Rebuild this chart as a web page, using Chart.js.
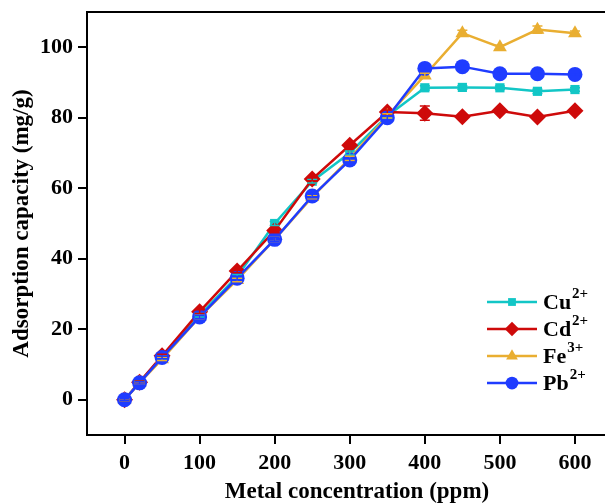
<!DOCTYPE html>
<html>
<head>
<meta charset="utf-8">
<script src="https://cdn.jsdelivr.net/npm/chart.js@4/dist/chart.umd.min.js"></script>
<style>
  html, body { margin: 0; padding: 0; background: #fff; overflow: hidden; }
  canvas { display: block; }
</style>
</head>
<body>
<canvas id="c" width="605" height="504"></canvas>
<script>
// Metal concentration (ppm)
const concentrations = [0, 20, 50, 100, 150, 200, 250, 300, 350, 400, 450, 500, 550, 600];

// Adsorption capacity (mg/g) for each ion
const cuValues = [0, 5.0, 12.0, 24.0, 35.0, 50.0, 62.0, 70.0, 80.5, 88.5, 88.6, 88.5, 87.5, 88.0];
const cdValues = [0, 5.0, 12.5, 25.0, 36.5, 48.0, 62.6, 72.2, 81.6, 81.3, 80.3, 82.0, 80.2, 82.0];
const feValues = [0, 4.8, 11.5, 23.5, 34.0, 45.5, 57.5, 68.5, 80.5, 92.0, 104.0, 100.0, 105.0, 104.0];
const pbValues = [0, 4.8, 12.0, 23.5, 34.5, 45.5, 57.8, 68.0, 80.0, 94.0, 94.5, 92.5, 92.5, 92.3];

// Standard deviations
const cuErrors = [0.3, 0.3, 0.4, 0.5, 0.5, 0.6, 0.5, 0.6, 0.6, 0.6, 0.5, 0.5, 0.6, 0.5];
const cdErrors = [0.3, 0.3, 0.4, 0.5, 0.5, 0.6, 0.5, 0.6, 0.6, 2.0, 0.5, 0.5, 0.6, 0.5];
const feErrors = [0.3, 0.3, 0.4, 0.5, 0.5, 0.6, 0.5, 0.6, 0.6, 0.6, 0.8, 0.6, 1.0, 0.6];
const pbErrors = [0.3, 0.3, 0.4, 0.5, 0.5, 0.6, 0.5, 0.6, 0.6, 0.6, 0.5, 0.5, 0.6, 0.5];

const xTicks = [0, 100, 200, 300, 400, 500, 600];
const yTicks = [0, 20, 40, 60, 80, 100];

const seriesNames = ['Cu', 'Cd', 'Fe', 'Pb'];
const seriesCharges = ['2+', '2+', '3+', '2+'];
const xTitle = 'Metal concentration (ppm)';

const FONT = '"Liberation Serif", "Times New Roman", serif';

const styles = [
  { color: '#12C6C6', shape: 'rect', radius: 6.5 },
  { color: '#CE0A0A', shape: 'rectRot', radius: 8.5 },
  { color: '#E9AE31', shape: 'triangle', radius: 8 },
  { color: '#1F3CFF', shape: 'circle', radius: 7.5 }
];

const valueSets = [cuValues, cdValues, feValues, pbValues];
const errorSets = [cuErrors, cdErrors, feErrors, pbErrors];

const datasets = valueSets.map((vals, i) => ({
  label: seriesNames[i] + seriesCharges[i],
  data: concentrations.map((x, j) => ({ x: x, y: vals[j] })),
  errors: errorSets[i],
  borderColor: styles[i].color,
  backgroundColor: styles[i].color,
  borderWidth: 2.5,
  pointStyle: styles[i].shape,
  pointRadius: styles[i].radius,
  pointBorderWidth: 0,
  pointBackgroundColor: styles[i].color,
  tension: 0,
  order: 4 - i
}));

// Vertical error bars with caps, in the colour of each series
const errorBars = {
  id: 'errorBars',
  afterDatasetsDraw(chart) {
    const ctx = chart.ctx;
    const ys = chart.scales.y;
    ctx.save();
    chart.data.datasets.forEach((ds, i) => {
      const meta = chart.getDatasetMeta(i);
      ctx.strokeStyle = ds.borderColor;
      ctx.lineWidth = 1.5;
      meta.data.forEach((pt, j) => {
        const v = ds.data[j].y, e = ds.errors[j];
        const top = ys.getPixelForValue(v + e);
        const bot = ys.getPixelForValue(v - e);
        ctx.beginPath();
        ctx.moveTo(pt.x, top); ctx.lineTo(pt.x, bot);
        ctx.moveTo(pt.x - 5, top); ctx.lineTo(pt.x + 5, top);
        ctx.moveTo(pt.x - 5, bot); ctx.lineTo(pt.x + 5, bot);
        ctx.stroke();
      });
    });
    ctx.restore();
  }
};

// Top frame line, x-axis title and the legend with superscript charges
const frameAndLegend = {
  id: 'frameAndLegend',
  afterDraw(chart) {
    const ctx = chart.ctx;
    const a = chart.chartArea;
    ctx.save();
    ctx.strokeStyle = '#000';
    ctx.lineWidth = 2;
    ctx.beginPath();
    ctx.moveTo(a.left - 1, a.top);
    ctx.lineTo(a.right + 2, a.top);
    ctx.stroke();

    ctx.fillStyle = '#000';
    ctx.textAlign = 'center';
    ctx.textBaseline = 'middle';
    ctx.font = 'bold 23px ' + FONT;
    ctx.fillText(xTitle, 357, 492);

    const x0 = 487, x1 = 537, tx = 543;
    const rows = [302, 329, 356, 383];
    chart.data.datasets.forEach((ds, i) => {
      const y = rows[i];
      ctx.strokeStyle = ds.borderColor;
      ctx.lineWidth = 2.5;
      ctx.beginPath();
      ctx.moveTo(x0, y); ctx.lineTo(x1, y);
      ctx.stroke();
      ctx.fillStyle = ds.borderColor;
      Chart.helpers.drawPoint(ctx, {
        pointStyle: ds.pointStyle,
        radius: styles[i].radius * 0.85,
        rotation: 0,
        borderWidth: 0
      }, (x0 + x1) / 2, y);
      ctx.fillStyle = '#000';
      ctx.textBaseline = 'middle';
      ctx.textAlign = 'left';
      ctx.font = 'bold 22px ' + FONT;
      ctx.fillText(seriesNames[i], tx, y + 1);
      const w = ctx.measureText(seriesNames[i]).width;
      ctx.font = 'bold 15px ' + FONT;
      ctx.fillText(seriesCharges[i], tx + w + 1, y - 8);
    });
    ctx.restore();
  }
};

new Chart(document.getElementById('c'), {
  type: 'line',
  data: { datasets: datasets },
  plugins: [errorBars, frameAndLegend],
  options: {
    responsive: false,
    animation: false,
    events: [],
    layout: { autoPadding: false, padding: { top: 12, right: 0, left: 0, bottom: 0 } },
    plugins: { legend: { display: false }, tooltip: { enabled: false } },
    scales: {
      x: {
        type: 'linear',
        min: -50,
        max: 640,
        afterBuildTicks(s) { s.ticks = xTicks.map(v => ({ value: v })); },
        afterFit(s) { s.height = 69; s.paddingLeft = 0; s.paddingRight = 0; },
        border: { display: true, color: '#000', width: 2 },
        grid: { drawOnChartArea: false, drawTicks: true, tickLength: 9, color: '#000', lineWidth: 2 },
        ticks: { color: '#000', font: { family: FONT, size: 22, weight: 'bold' }, padding: 6, maxRotation: 0 },
        title: { display: false }
      },
      y: {
        type: 'linear',
        min: -10,
        max: 110,
        afterBuildTicks(s) { s.ticks = yTicks.map(v => ({ value: v })); },
        afterFit(s) { s.width = 87; s.paddingTop = 0; s.paddingBottom = 0; },
        border: { display: true, color: '#000', width: 2 },
        grid: { drawOnChartArea: false, drawTicks: true, tickLength: 9, color: '#000', lineWidth: 2 },
        ticks: { color: '#000', font: { family: FONT, size: 22, weight: 'bold' }, padding: 5 },
        title: {
          display: true,
          text: 'Adsorption capacity (mg/g)',
          color: '#000',
          font: { family: FONT, size: 23, weight: 'bold' },
          padding: { top: 8, bottom: 0 }
        }
      }
    }
  }
});
</script>
</body>
</html>
